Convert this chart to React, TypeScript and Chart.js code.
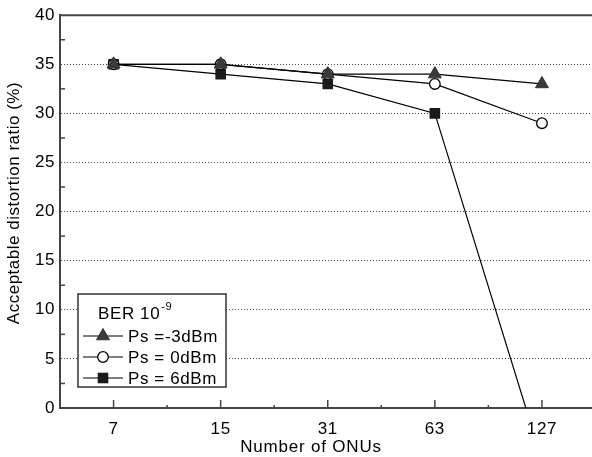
import React, { useEffect, useRef } from "react";
import { Chart, registerables } from "chart.js";

Chart.register(...registerables);

const categories = ["7", "15", "31", "63", "127"];
const psMinus3 = [35, 35, 34, 34, 33];
const ps0 = [35, 35, 34, 33, 29];
const ps6 = [35, 34, 33, 30, -5.3];
const seriesLabels = ["Ps =-3dBm", "Ps = 0dBm", "Ps = 6dBm"];
const yTicks = { min: 0, max: 40, step: 5 };
const xTitle = "Number of ONUs";
const yTitle = "Acceptable distortion ratio (%)";
const legendTitle = "BER 10";
const legendSup = "-9";

const FONT = "'Liberation Sans', Arial, sans-serif";

function drawMarker(ctx: CanvasRenderingContext2D, style: string, x: number, y: number) {
  ctx.save();
  ctx.lineWidth = 1;
  if (style === "triangle") {
    const r = 7.5;
    ctx.fillStyle = "#3a3a3a";
    ctx.strokeStyle = "#333";
    ctx.beginPath();
    ctx.moveTo(x, y - r);
    ctx.lineTo(x + r * Math.sin((2 * Math.PI) / 3), y - r * Math.cos((2 * Math.PI) / 3));
    ctx.lineTo(x + r * Math.sin((4 * Math.PI) / 3), y - r * Math.cos((4 * Math.PI) / 3));
    ctx.closePath();
    ctx.fill();
    ctx.stroke();
  } else if (style === "circle") {
    ctx.fillStyle = "#fff";
    ctx.strokeStyle = "#000";
    ctx.lineWidth = 1.3;
    ctx.beginPath();
    ctx.arc(x, y, 5.3, 0, Math.PI * 2);
    ctx.fill();
    ctx.stroke();
  } else {
    const s = 5.3;
    ctx.fillStyle = "#1a1a1a";
    ctx.fillRect(x - s, y - s, 2 * s, 2 * s);
  }
  ctx.restore();
}

const decorPlugin = {
  id: "decor",
  beforeDraw(chart: any) {
    (chart.ctx as any).letterSpacing = "0.6px";
  },
  afterDraw(chart: any) {
    const ctx: CanvasRenderingContext2D = chart.ctx;
    const { left, right, top, bottom } = chart.chartArea;
    const xs = chart.scales.x;
    const ys = chart.scales.y;
    ctx.save();
    // top frame
    ctx.strokeStyle = "#444";
    ctx.lineWidth = 2;
    ctx.beginPath();
    ctx.moveTo(left - 1, top);
    ctx.lineTo(right + 2, top);
    ctx.stroke();
    // y minor ticks
    ctx.lineWidth = 1.5;
    for (let v = yTicks.min + yTicks.step / 2; v < yTicks.max; v += yTicks.step) {
      const py = ys.getPixelForValue(v);
      ctx.beginPath();
      ctx.moveTo(left, py);
      ctx.lineTo(left + 5, py);
      ctx.stroke();
    }
    // x major / minor ticks
    for (let i = 0; i < categories.length; i++) {
      const px = xs.getPixelForValue(i);
      ctx.beginPath();
      ctx.moveTo(px, bottom);
      ctx.lineTo(px, bottom - 8);
      ctx.stroke();
      if (i > 0) {
        const mx = (px + xs.getPixelForValue(i - 1)) / 2;
        ctx.beginPath();
        ctx.moveTo(mx, bottom);
        ctx.lineTo(mx, bottom - 3);
        ctx.stroke();
      }
    }
    // axis titles
    ctx.fillStyle = "#000";
    ctx.font = `17px ${FONT}`;
    ctx.textAlign = "center";
    ctx.textBaseline = "middle";
    (ctx as any).letterSpacing = "0.8px";
    ctx.fillText(xTitle, 311, 447);
    (ctx as any).letterSpacing = "0.5px";
    ctx.save();
    ctx.translate(14, 203);
    ctx.rotate(-Math.PI / 2);
    ctx.fillText(yTitle, 0, 0);
    ctx.restore();

    // legend
    const bx = 78, by = 294, bw = 148, bh = 93;
    ctx.fillStyle = "#fff";
    ctx.fillRect(bx, by, bw, bh);
    ctx.strokeStyle = "#333";
    ctx.lineWidth = 1.5;
    ctx.strokeRect(bx, by, bw, bh);
    ctx.fillStyle = "#000";
    ctx.textAlign = "left";
    (ctx as any).letterSpacing = "0.6px";
    ctx.font = `17px ${FONT}`;
    ctx.fillText(legendTitle, 98, 314);
    const w = ctx.measureText(legendTitle).width;
    ctx.font = `11px ${FONT}`;
    ctx.fillText(legendSup, 98 + w + 1, 307);
    const styles = ["triangle", "circle", "rect"];
    const rowsY = [336, 357, 378];
    for (let i = 0; i < 3; i++) {
      const ry = rowsY[i];
      ctx.strokeStyle = "#000";
      ctx.lineWidth = 1.2;
      ctx.beginPath();
      ctx.moveTo(83, ry);
      ctx.lineTo(123, ry);
      ctx.stroke();
      drawMarker(ctx, styles[i], 103, ry);
      ctx.fillStyle = "#000";
      ctx.font = `17px ${FONT}`;
      ctx.textAlign = "left";
      ctx.textBaseline = "middle";
      ctx.fillText(seriesLabels[i], 128, ry + 1);
    }
    ctx.restore();
    (ctx as any).letterSpacing = "0px";
  },
};

export default function App() {
  const ref = useRef<HTMLCanvasElement | null>(null);
  useEffect(() => {
    if (!ref.current) return;
    const common = {
      borderColor: "#000",
      borderWidth: 1.2,
      tension: 0,
      fill: false,
    };
    const chart = new Chart(ref.current, {
      type: "line",
      data: {
        labels: categories,
        datasets: [
          {
            ...common,
            label: seriesLabels[0],
            data: psMinus3,
            pointStyle: "triangle",
            pointRadius: 7.5,
            pointBackgroundColor: "#3a3a3a",
            pointBorderColor: "#333",
            pointBorderWidth: 1,
          },
          {
            ...common,
            label: seriesLabels[1],
            data: ps0,
            pointStyle: "circle",
            pointRadius: 5.3,
            pointBackgroundColor: "#fff",
            pointBorderColor: "#000",
            pointBorderWidth: 1.3,
          },
          {
            ...common,
            label: seriesLabels[2],
            data: ps6,
            pointStyle: "rect",
            pointRadius: 7.5,
            pointBackgroundColor: "#1a1a1a",
            pointBorderColor: "#1a1a1a",
            pointBorderWidth: 0,
          },
        ],
      },
      options: {
        animation: false,
        responsive: false,
        devicePixelRatio: 1,
        layout: { padding: { left: 0, top: 14, right: 4, bottom: 0 } },
        plugins: { legend: { display: false }, tooltip: { enabled: false } },
        scales: {
          x: {
            type: "category",
            offset: true,
            grid: { display: false, drawTicks: false },
            border: { display: true, color: "#444", width: 2 },
            ticks: { color: "#000", font: { family: FONT, size: 17 }, padding: 11, maxRotation: 0 },
            afterFit: (s: any) => {
              s.height = 49;
            },
          },
          y: {
            min: yTicks.min,
            max: yTicks.max,
            grid: { color: "#444", lineWidth: 1, drawTicks: false },
            border: { display: true, color: "#444", width: 2, dash: [1, 2] },
            ticks: { stepSize: yTicks.step, color: "#000", font: { family: FONT, size: 17 }, padding: 5 },
            afterFit: (s: any) => {
              s.width = 60;
            },
          },
        },
      },
      plugins: [decorPlugin],
    } as any);
    return () => chart.destroy();
  }, []);
  return (
    <div style={{ position: "fixed", left: 0, top: 0, width: 592, height: 457, overflow: "hidden", background: "#fff" }}>
      <canvas ref={ref} width={604} height={457} style={{ display: "block" }} />
    </div>
  );
}
